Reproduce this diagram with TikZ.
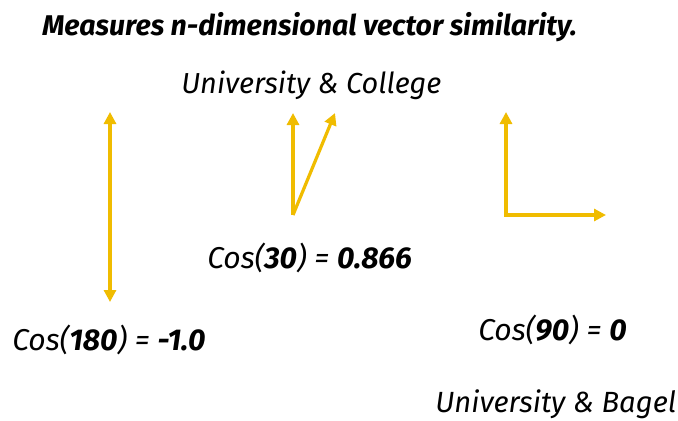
\documentclass[tikz,border=0pt]{standalone}
\usepackage{fontspec}
\setmainfont{Fira Sans}
\usetikzlibrary{arrows.meta}
\definecolor{gold}{HTML}{F0BC00}
\tikzset{
  vec/.style={draw=gold, line width=2.4pt, -{Triangle[length=9pt,width=9pt]}},
  dvec/.style={draw=gold, line width=2.4pt, {Triangle[length=9pt,width=9pt]}-{Triangle[length=9pt,width=9pt]}},
  lbl/.style={inner sep=0pt, anchor=base west, font=\fontsize{21.7}{26}\selectfont\itshape},
  coslbl/.style={lbl, font=\fontsize{22.6}{27}\selectfont\itshape},
}
\begin{document}
\begin{tikzpicture}[x=0.75pt,y=-0.75pt]
\useasboundingbox[fill=white] (0,0) rectangle (678,421);
\node[lbl, font=\fontsize{21.4}{26}\selectfont\bfseries\itshape] (title) at (42,35) {Measures n-dimensional vector similarity.};
\node[lbl] (uc) at (181,93) {University \& College};
\node[coslbl] (c30) at (207,268) {Cos(\textbf{30}) = \textbf{0.866}};
\node[coslbl] (c180) at (12,350) {Cos(\textbf{180}) = \textbf{-1.0}};
\node[coslbl] (c90) at (478,340) {Cos(\textbf{90}) = \textbf{0}};
\node[lbl, font=\fontsize{21.9}{26}\selectfont\itshape] (ub) at (435,412) {University \& Bagel};
% left
\coordinate (lt) at (110,112);
\coordinate (lb) at (110,302);
\draw[dvec] (lt) -- (lb);
% middle
\coordinate (mo) at (293,215);
\coordinate (mv) at (293,113);
\coordinate (ms) at (335,113);
\draw[vec] (mo) -- (mv);
\draw[vec] (mo) -- (ms);
% right
\coordinate (ro) at (506,215);
\coordinate (ru) at (506,112);
\coordinate (rr) at (606,215);
\draw[vec] (ro) -- (ru);
\draw[vec] ([xshift=-1.2pt]ro) -- (rr);
\end{tikzpicture}
\end{document}
